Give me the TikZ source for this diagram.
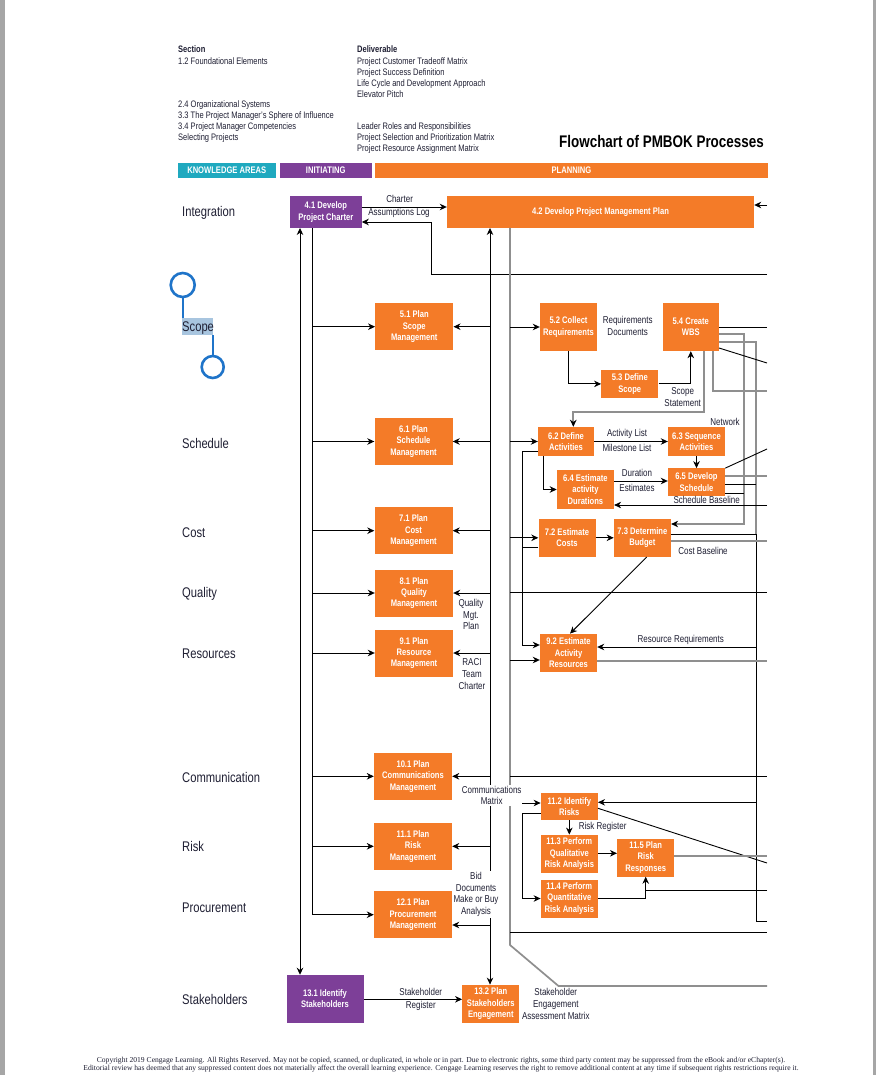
\documentclass[tikz,border=0pt]{standalone}
\usepackage{fontspec}
\setmainfont{Liberation Sans}[FakeStretch=0.8]
\newfontfamily\footfont{Liberation Serif}
\usepackage{xcolor}
\usepackage{tikz}
\usetikzlibrary{arrows.meta}

\definecolor{pmorange}{HTML}{F47B28}
\definecolor{pmpurple}{HTML}{7D3F98}
\definecolor{pmteal}{HTML}{1FA9BF}
\definecolor{linegray}{HTML}{8F8F8F}
\definecolor{ink}{HTML}{1F1F33}
\definecolor{selblue}{HTML}{1F74C9}
\definecolor{selhl}{HTML}{A8C5DF}
\definecolor{pagegray}{HTML}{A6A6A6}

\begin{document}
\begin{tikzpicture}[x=1pt, y=-1pt, font=\fontsize{10}{11.7}\selectfont, >={Stealth[length=7pt,width=6.5pt,inset=2.2pt]},
	box/.style={fill=pmorange, text=white, font=\fontsize{9.5}{11.3}\selectfont\bfseries, align=center, inner sep=1pt, minimum width=57pt, minimum height=38pt},
	planbox/.style={box, minimum width=78pt, minimum height=47pt},
	initbox/.style={box, fill=pmpurple},
	lbl/.style={text=ink, align=center, inner sep=1pt},
	area/.style={anchor=base west, text=ink, inner sep=0pt, font=\fontsize{14}{16}\selectfont},
	hdr/.style={anchor=base west, text=ink, inner sep=0pt, font=\fontsize{9.4}{11}\selectfont},
	bar/.style={text=white, font=\fontsize{9.5}{11}\selectfont\bfseries, inner sep=0pt, minimum height=14.4pt},
	link/.style={draw=black, line width=0.9pt},
	glink/.style={draw=linegray, line width=1.7pt},
	blackhead/.style={-{Stealth[length=7pt,width=6.5pt,inset=2.2pt,color=black]}}]
		% Page and margins
		\useasboundingbox (0,0) rectangle (876,1075);
		\fill[white] (0,0) rectangle (876,1075);
		\fill[pagegray] (0,0) rectangle (4.5,1075);
		\fill[pagegray] (872.5,0) rectangle (876,1075);
		% Columns and right rim
		\coordinate (colA) at (300,0);
		\coordinate (colB) at (312,0);
		\coordinate (colC) at (490,0);
		\coordinate (colD) at (510,0);
		\coordinate (colE) at (522.5,0);
		\coordinate (colF) at (744,0);
		\coordinate (colG) at (756,0);
		\coordinate (wbsA) at (704,0);
		\coordinate (wbsB) at (713,0);
		\coordinate (rim) at (767,0);
		\coordinate (sebend) at (558.5,986);
		% Header: sections and deliverables
		\node[hdr, font=\fontsize{9.4}{11}\selectfont\bfseries] (secHead) at (178,52.2) {Section};
		\foreach \n/\y/\t in {1/61/1.2 Foundational Elements, 2/104/2.4 Organizational Systems, 3/115/3.3 The Project Manager’s Sphere of Influence, 4/126/3.4 Project Manager Competencies, 5/137/Selecting Projects}
			\node[hdr] (sec\n) at (178,\y+3.2) {\t};
		\node[hdr, font=\fontsize{9.4}{11}\selectfont\bfseries] (delHead) at (357,52.2) {Deliverable};
		\foreach \n/\y/\t in {1/61/Project Customer Tradeoff Matrix, 2/72/Project Success Definition, 3/83/Life Cycle and Development Approach, 4/94/Elevator Pitch, 5/126/Leader Roles and Responsibilities, 6/137/Project Selection and Prioritization Matrix, 7/148/Project Resource Assignment Matrix}
			\node[hdr] (del\n) at (357,\y+3.2) {\t};
		\node[anchor=base east, inner sep=0pt, text=black, font=\fontsize{16.8}{18}\selectfont\bfseries] (title) at (764,148) {Flowchart of PMBOK Processes};
		% Phase bars
		\node[bar, fill=pmteal, minimum width=98.1pt] (kaBar) at (226.75,170.5) {KNOWLEDGE AREAS};
		\node[bar, fill=pmpurple, minimum width=92.3pt] (inBar) at (325.75,170.5) {INITIATING};
		\node[bar, fill=pmorange, minimum width=393pt] (plBar) at (571.5,170.5) {PLANNING};
		% Knowledge areas
		\fill[selhl] (181.5,318) rectangle (212.5,335);
		\foreach \n/\y/\t in {1/212/Integration, 2/326/Scope, 3/443/Schedule, 4/532/Cost, 5/592/Quality, 6/653/Resources, 7/777/Communication, 8/846/Risk, 9/907/Procurement, 10/999/Stakeholders}
			\node[area] (ka\n) at (182,\y+5) {\t};
		\draw[selblue, line width=2.6pt] (182.7,285) circle[radius=12pt];
		\draw[selblue, line width=2.6pt] (212.7,367) circle[radius=11pt];
		\draw[selblue, line width=2pt] (182.7,297) -- (182.7,318);
		\draw[selblue, line width=2pt] (212.7,335) -- (212.7,356);
		% Process boxes
		\node[initbox, minimum width=71.5pt, minimum height=31.7pt] (p41) at (325.8,211.9) {4.1 Develop\\Project Charter};
		\node[box, minimum width=307pt, minimum height=31.7pt] (p42) at (600.5,211.9) {4.2 Develop Project Management Plan};
		\node[planbox] (p51) at (414.3,326.7) {5.1 Plan\\Scope\\Management};
		\node[box, minimum height=48pt] (p52) at (568.5,327) {5.2 Collect\\Requirements};
		\node[box, minimum height=27.7pt] (p53) at (629.8,383.9) {5.3 Define\\Scope};
		\node[box, minimum width=56pt, minimum height=48pt] (p54) at (690.8,327) {5.4 Create\\WBS};
		\node[planbox] (p61) at (413.5,441.5) {6.1 Plan\\Schedule\\Management};
		\node[box, minimum width=56pt, minimum height=29pt] (p62) at (566,441.5) {6.2 Define\\Activities};
		\node[box, minimum height=29pt] (p63) at (696.5,441.5) {6.3 Sequence\\Activities};
		\node[box, minimum height=39pt] (p64) at (585.4,489.5) {6.4 Estimate\\activity\\Durations};
		\node[box, minimum height=27.7pt] (p65) at (696.5,482.2) {6.5 Develop\\Schedule};
		\node[planbox] (p71) at (413.5,530.7) {7.1 Plan\\Cost\\Management};
		\node[box] (p72) at (567,537.8) {7.2 Estimate\\Costs};
		\node[box] (p73) at (642.4,537.8) {7.3 Determine\\Budget};
		\node[planbox] (p81) at (414,593) {8.1 Plan\\Quality\\Management};
		\node[planbox] (p91) at (414,653) {9.1 Plan\\Resource\\Management};
		\node[box] (p92) at (568.5,652.8) {9.2 Estimate\\Activity\\Resources};
		\node[planbox] (p101) at (413,776.3) {10.1 Plan\\Communications\\Management};
		\node[planbox] (p111) at (413,846.3) {11.1 Plan\\Risk\\Management};
		\node[planbox] (p121) at (413,914.7) {12.1 Plan\\Procurement\\Management};
		\node[box, minimum height=26.7pt] (p112) at (569.3,806.7) {11.2 Identify\\Risks};
		\node[box] (p113) at (569.3,853.8) {11.3 Perform\\Qualitative\\Risk Analysis};
		\node[box] (p114) at (569.3,898.5) {11.4 Perform\\Quantitative\\Risk Analysis};
		\node[box] (p115) at (645.7,857.5) {11.5 Plan\\Risk\\Responses};
		\node[initbox, minimum width=77pt, minimum height=47.7pt] (p131) at (325,998.8) {13.1 Identify\\Stakeholders};
		\node[box] (p132) at (490.8,1003.8) {13.2 Plan\\Stakeholders\\Engagement};
		% Integration flows
		\draw[link,->] (p41.east |- 0,207) -- (p42.west |- 0,207);
		\draw[link,->] (rim |- 0,274) -- (431,274) |- (p41.east |- 0,222);
		\draw[link,->] (rim |- 0,205) -- (p42.east |- 0,205);
		\node[lbl] (charterLbl) at (399.6,198.5) {Charter};
		\node[lbl] (assumpLbl) at (399,213) {Assumptions Log};
		% Vertical trunks
		\draw[link,<->] (colA |- p41.south) -- (colA |- p131.north);
		\draw[link] (colB |- p41.south) -- (colB |- 0,914.3);
		\foreach \b in {p51,p61,p71,p81,p91,p101,p111,p121}
			\draw[link,->] (colB |- \b.west) -- (\b.west);
		\draw[link,<->] (colC |- p42.south) -- (colC |- p132.north);
		\foreach \b in {p51,p61,p71,p81,p91,p101,p111}
			\draw[link,->] (colC |- \b.east) -- (\b.east);
		\draw[link,->] (colC |- 0,925) -- (p121.east |- 0,925);
		\draw[glink] (colD |- p42.south) -- (colD |- 0,945) -- (sebend) -- (rim |- sebend);
		\foreach \b in {p52,p62,p72}
			\draw[link,->] (colD |- \b.west) -- (\b.west);
		\draw[link,->] (colD |- 0,660) -- (p92.west |- 0,660);
		\draw[link,->] (colD |- 0,803) -- (p112.west |- 0,803);
		\foreach \y in {592.3,776.5,932}
			\draw[link] (colD |- 0,\y) -- (rim |- 0,\y);
		% Scope
		\draw[link,->] (p52.south) |- (p53.west);
		\draw[link,->] (p53.east) -| (p54.south);
		\draw[link] (p54.east) -- (rim |- p54.east);
		\draw[glink,blackhead] (p54.east |- 0,334) -| (colF |- 0,524) -- (p73.east |- 0,524);
		\draw[glink] (p54.east |- 0,341.7) -| (colG |- 0,534);
		\draw[link] (p54.east |- 0,348) -- (rim |- 0,363);
		\draw[glink,blackhead] (p54.south -| wbsA) -- (wbsA |- 0,412) -| (p62.north -| 573.3,0);
		\draw[glink] (p54.south -| wbsB) |- (rim |- 0,390.7);
		\node[lbl] (reqDocs) at (627.7,326) {Requirements\\Documents};
		\node[lbl] (scopeSt) at (682.7,397) {Scope\\Statement};
		% Schedule
		\draw[link,->] (p62.east) -- (p63.west);
		\node[lbl] (actList) at (627,434) {Activity List};
		\node[lbl] (msList) at (627,447.5) {Milestone List};
		\node[lbl] (netw) at (725,421.7) {Network};
		\draw[link,->] (p63.south) -- (p65.north);
		\draw[link,->] (p62.south -| 543.3,0) |- (p64.west);
		\draw[link,->] (p64.east |- 0,481) -- (p65.west |- 0,481);
		\node[lbl] (durLbl) at (637,473.3) {Duration};
		\node[lbl] (estLbl) at (637,487.7) {Estimates};
		\draw[link] (p65.north east) -- (rim |- 0,449);
		\draw[glink] (p65.east |- 0,476) -- (rim |- 0,476);
		\draw[link] (p65.east |- 0,484.3) -- (colG |- 0,484.3);
		\draw[link] (p65.east |- 0,493.3) -- (colF |- 0,493.3);
		\draw[link,->] (rim |- 0,505) -- (p64.east |- 0,505);
		\node[lbl] (schBase) at (706.7,500) {Schedule Baseline};
		\draw[link,->] (p62.west |- 0,451) -- (colE |- 0,451) |- (p92.west |- 0,645);
		\draw[link] (p72.west |- 0,547) -- (colE |- 0,547);
		% Cost
		\draw[link,->] (p72.east) -- (p73.west);
		\draw[link] (p73.east |- 0,534) -| (colG |- 0,921) -- (rim |- 0,921);
		\draw[glink] (p73.east |- 0,541) -- (rim |- 0,541);
		\node[lbl] (costBase) at (703,550.7) {Cost Baseline};
		\draw[link,->] (p73.south -| 646.7,0) -- (p92.north -| 570,0);
		% Quality and resources
		\node[lbl] (qmp) at (471,614.7) {Quality\\Mgt.\\Plan};
		\node[lbl] (raci) at (472,674) {RACI\\Team\\Charter};
		\draw[link,->] (colG |- 0,647) -- (p92.east |- 0,647);
		\node[lbl] (resReq) at (680.8,640) {Resource Requirements};
		\draw[glink] (p92.east |- 0,660.7) -- (rim |- 0,660.7);
		% Risk
		\draw[link,->] (p112.south) -- (p113.north);
		\node[lbl] (riskReg) at (602.7,826.7) {Risk Register};
		\draw[link,->] (p112.west |- 0,813.3) -- (colE |- 0,813.3) |- (p114.west);
		\draw[link,->] (p113.east |- 0,853.3) -- (p115.west |- 0,853.3);
		\draw[link,->] (colG |- 0,802.3) -- (p112.east |- 0,802.3);
		\draw[link] (p112.east |- 0,808.3) -- (rim |- 0,863);
		\draw[glink] (p115.east |- 0,856) -- (rim |- 0,856);
		\draw[link,->] (p114.east |- 0,898) -| (p115.south);
		\draw[link] (rim |- 0,890) -- (p115.south |- 0,890);
		% Stakeholders
		\draw[link,->] (p131.east |- 0,999.3) -- (p132.west |- 0,999.3);
		\node[lbl] (stkLbl) at (420.8,991.7) {Stakeholder};
		\node[lbl] (regLbl) at (420.8,1006) {Register};
		\node[lbl] (seam) at (555.8,1003.8) {Stakeholder\\Engagement\\Assessment Matrix};
		% Labels over the trunks
		\node[lbl, fill=white] (commMx) at (491.7,795.5) {Communications\\Matrix};
		\node[lbl, fill=white] (bidDocs) at (476,894.3) {Bid\\Documents\\Make or Buy\\Analysis};
		% Footer
		\node[text=ink, align=center, inner sep=0pt, font=\footfont\fontsize{7.6}{8}\selectfont] (copyr) at (441,1065) {Copyright 2019 Cengage Learning. All Rights Reserved. May not be copied, scanned, or duplicated, in whole or in part. Due to electronic rights, some third party content may be suppressed from the eBook and/or eChapter(s).\\Editorial review has deemed that any suppressed content does not materially affect the overall learning experience. Cengage Learning reserves the right to remove additional content at any time if subsequent rights restrictions require it.};
	\end{tikzpicture}
\end{document}
